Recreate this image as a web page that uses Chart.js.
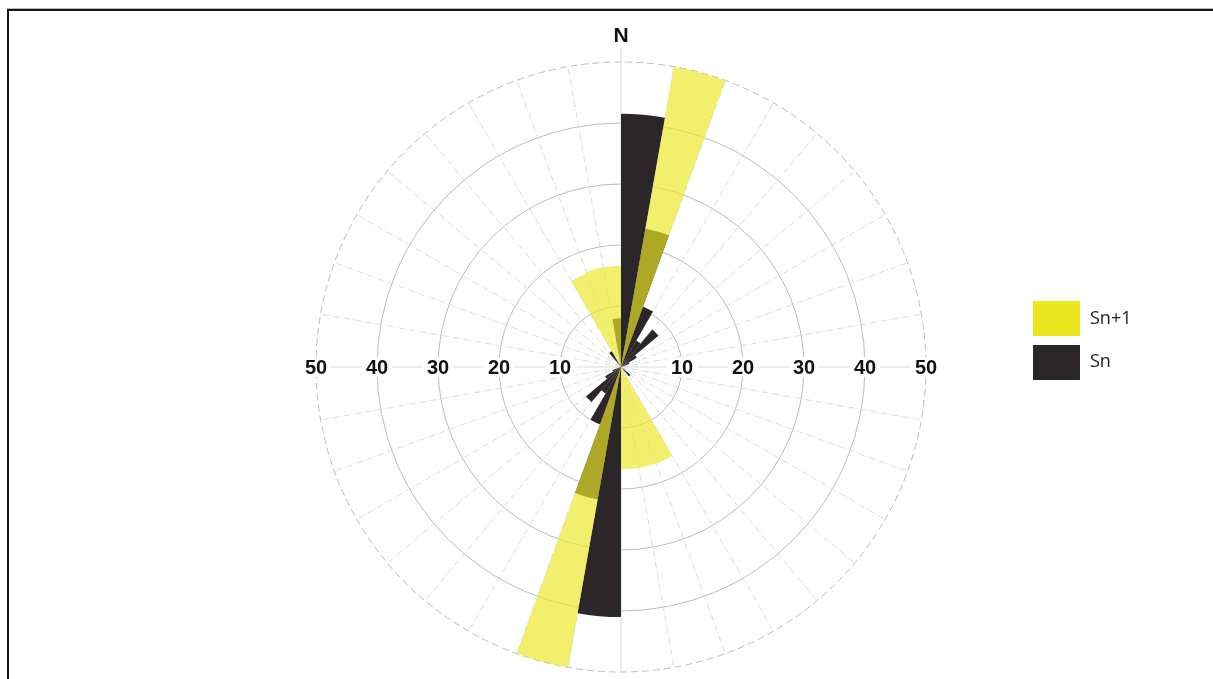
<!DOCTYPE html>
<html>
<head>
<meta charset="utf-8">
<script src="https://cdn.jsdelivr.net/npm/chart.js@4"></script>
<style>
    html, body { margin: 0; padding: 0; background: #fff; }
    #wrap { position: relative; width: 1213px; height: 679px; overflow: hidden; }
    #moldura { position: absolute; left: 7px; top: 9px; width: 1400px; height: 900px; border: 2px solid #151515; box-shadow: 0 -1px 0 #bbb; }
    #grafico { position: absolute; left: 0; top: 0; }
    .legenda { position: absolute; left: 1033px; width: 47px; height: 35px; }
    .legendaTxt { position: absolute; left: 1090px; font: 18px "Open Sans", "Liberation Sans", sans-serif; color: #1d1d1d; }
</style>
</head>
<body>
<div id="wrap">
    <div id="moldura"></div>
    <canvas id="grafico" width="1213" height="679"></canvas>
    <div class="legenda" style="top:301px;background:#ece81f"></div>
    <div class="legendaTxt" style="top:305px">Sn+1</div>
    <div class="legenda" style="top:345px;background:#2b2728"></div>
    <div class="legendaTxt" style="top:348px">Sn</div>
</div>
<script>
// setores de 10 graus, a partir do norte, sentido horario
const direcoes = Array.from({ length: 36 }, (_, i) => (i * 10) + '°')

const sn1 = [0, 50, 0, 0, 0, 0, 0, 0, 0, 0, 0, 0,
    0, 0, 0, 16.8, 16.8, 16.8, 0, 50, 0, 0, 0, 0,
    0, 0, 0, 0, 0, 0, 0, 0, 0, 16.3, 16.6, 16.6]

const sn = [41.5, 23, 10.5, 5, 8, 3, 1.5, 0, 0, 0, 0, 0,
    0, 2, 0, 0, 0, 0, 41, 22, 10, 5, 7.5, 3,
    1.5, 0, 0, 0, 0, 0, 0, 0, 3, 0, 0, 8]

const marcasRaio = [10, 20, 30, 40, 50]

const ctx = document.getElementById('grafico')

const rotulos = {
    id: 'rotulos',
    afterDraw(chart) {
        const c = chart.ctx
        const r = chart.scales.r
        const cx = r.xCenter
        const cy = r.yCenter

        c.save()
        // linha do norte passando do circulo
        c.strokeStyle = '#d2d2d2'
        c.lineWidth = 1
        c.beginPath()
        c.moveTo(cx, cy - r.drawingArea)
        c.lineTo(cx, cy - r.drawingArea - 14)
        c.stroke()

        c.font = 'bold 20px "Liberation Sans", Arial, sans-serif'
        c.textAlign = 'center'
        c.textBaseline = 'middle'
        marcasRaio.forEach(v => {
            const d = r.getDistanceFromCenterForValue(v)
            const txt = String(v)
            const w = c.measureText(txt).width
            ;[cx - d, cx + d].forEach(x => {
                c.fillStyle = '#fff'
                c.fillRect(x - w / 2 - 4, cy - 10, w + 8, 20)
                c.fillStyle = '#111'
                c.fillText(txt, x, cy + 1)
            })
        })
        c.font = 'bold 21px "Liberation Sans", Arial, sans-serif'
        c.fillText('N', cx, cy - r.drawingArea - 26)
        c.restore()
    }
}

const chart = new Chart(ctx, {
    type: 'polarArea',
    data: {
        labels: direcoes,
        datasets: [{
            label: 'Sn+1',
            data: sn1,
            backgroundColor: 'rgba(236, 231, 40, 0.68)',
            borderWidth: 0
        }, {
            label: 'Sn',
            data: sn,
            backgroundColor: '#2b2728',
            borderWidth: 0
        }]
    },
    options: {
        responsive: false,
        animation: false,
        layout: {
            padding: { left: 316, right: 287, top: 62, bottom: 7 }
        },
        plugins: {
            legend: { display: false },
            tooltip: { enabled: false }
        },
        scales: {
            r: {
                min: 0,
                max: 50,
                startAngle: 0,
                ticks: { display: false, stepSize: 10 },
                grid: { circular: true, color: '#bcbcbc', lineWidth: 1 },
                border: {
                    dash: (c) => c.tick && c.tick.value === 50 ? [7, 4] : []
                },
                angleLines: {
                    display: true,
                    color: '#dcdcdc',
                    lineWidth: 1,
                    borderDash: (c) => c.index % 9 === 0 ? [] : [6, 2, 1, 2]
                },
                pointLabels: { display: false }
            }
        }
    },
    plugins: [rotulos]
})
</script>
</body>
</html>
